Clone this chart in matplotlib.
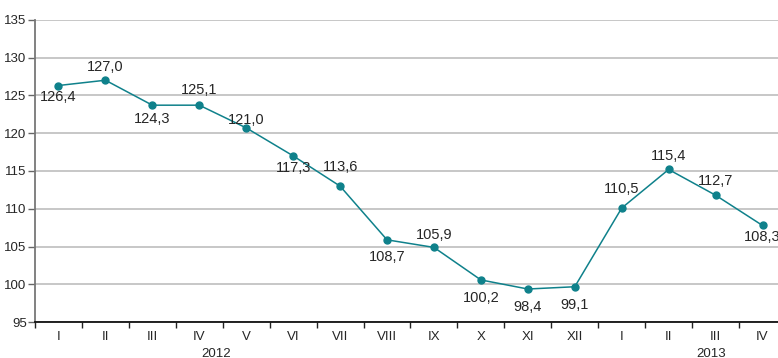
import matplotlib
matplotlib.use("Agg")
import matplotlib.pyplot as plt
from matplotlib.ticker import FixedLocator, NullFormatter

plt.rcParams['font.family'] = ['Liberation Sans', 'DejaVu Sans']

# data
months = ['I', 'II', 'III', 'IV', 'V', 'VI', 'VII', 'VIII', 'IX', 'X', 'XI', 'XII',
          'I', 'II', 'III', 'IV']
values = [126.3, 127.0, 123.7, 123.7, 120.7, 117.0, 113.0, 105.9, 104.9, 100.6,
          99.4, 99.7, 110.1, 115.2, 111.8, 107.8]
point_labels = ['126,4', '127,0', '124,3', '125,1', '121,0', '117,3', '113,6', '108,7',
                '105,9', '100,2', '98,4', '99,1', '110,5', '115,4', '112,7', '108,3']
years = ['2012', '2013']

# layout
label_dy = [-11, 13, -14, 15, 8, -12, 19, -17, 12, -18, -18, -18, 19, 13, 14, -12]
year_x = [3.35, 13.9]
line_color = '#0f818b'
text_color = '#262626'

fig = plt.figure(figsize=(7.78, 3.58), dpi=100)
ax = fig.add_axes([35 / 778, 1 - 322.3 / 358, 1 - 35 / 778, 302.6 / 358])

x = list(range(len(values)))
ax.plot(x, values, color=line_color, lw=1.1, marker='o', markersize=5,
        zorder=3, clip_on=False)

for xi, v, lab, dy in zip(x, values, point_labels, label_dy):
    ax.annotate(lab, (xi, v), xytext=(0, dy), textcoords='offset pixels',
                ha='center', va='center', fontsize=10.5, color=text_color, zorder=4)

ax.set_ylim(95, 135)
ax.set_yticks(range(95, 136, 5))
ax.set_xlim(-0.5, 15.33)

ax.xaxis.set_major_locator(FixedLocator(x))
ax.set_xticklabels(months)
ax.xaxis.set_minor_locator(FixedLocator([i - 0.5 for i in range(len(values) + 1)]))
ax.xaxis.set_minor_formatter(NullFormatter())
ax.tick_params(axis='x', which='major', length=0, pad=6, labelsize=9.5, labelcolor=text_color)
ax.tick_params(axis='x', which='minor', length=4, width=1, color='#222222', direction='out')
ax.tick_params(axis='y', length=5, width=1, color='#666666', pad=1, labelsize=9.5,
               labelcolor=text_color)

ax.grid(axis='y', color='#bdbdbd', lw=1.2)
ax.set_axisbelow(True)
for s in ['top', 'right']:
    ax.spines[s].set_visible(False)
ax.spines['left'].set_color('#777777')
ax.spines['left'].set_linewidth(1.3)
ax.spines['bottom'].set_color('#111111')
ax.spines['bottom'].set_linewidth(1.3)

for yx, yr in zip(year_x, years):
    ax.annotate(yr, xy=(yx, 0), xycoords=('data', 'axes fraction'),
                xytext=(0, -26), textcoords='offset pixels',
                ha='center', va='top', fontsize=9.5, color=text_color,
                annotation_clip=False)

fig.savefig('out.png', dpi=100)
